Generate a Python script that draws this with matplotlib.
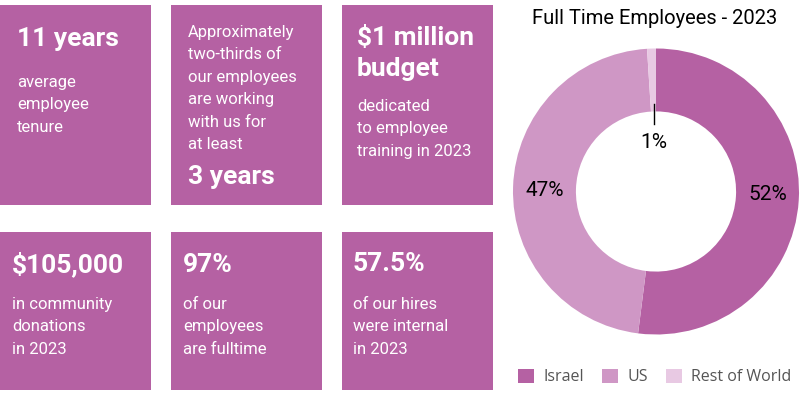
import matplotlib
matplotlib.use("Agg")
import numpy as np
import matplotlib.pyplot as plt
from matplotlib.patches import Rectangle, Patch

plt.rcParams['font.family'] = ['Roboto', 'DejaVu Sans']

# stat boxes
headlines = [["11 years"],
             [],
             ["$1 million", "budget"],
             ["$105,000"],
             ["97%"],
             ["57.5%"]]
captions = [["average", "employee", "tenure"],
            ["Approximately", "two-thirds of", "our employees", "are working",
             "with us for", "at least"],
            ["dedicated", "to employee", "training in 2023"],
            ["in community", "donations", "in 2023"],
            ["of our", "employees", "are fulltime"],
            ["of our hires", "were internal", "in 2023"]]
footlines = [[], ["3 years"], [], [], [], []]

# donut data
regions = ["Israel", "US", "Rest of World"]
shares = [52, 47, 1]
title = "Full Time Employees - 2023"

box_col = "#b561a3"
colors = ["#b561a3", "#cf97c5", "#e8c9e3"]

fig = plt.figure(figsize=(8, 4.05), dpi=100)
bg = fig.add_axes([0, 0, 1, 1])
bg.set_xlim(0, 800)
bg.set_ylim(405, 0)
bg.axis("off")

# box geometry (pixels)
box_x = [0, 171, 342]
box_w = 151
rows = [(5, 200), (232, 158)]
text_x = [17, 188, 357, 12, 183, 353]
head_base = [46, None, 45, 272, 272, 271]
cap_base = [87, 37, 111, 309, 309, 309]

for i in range(6):
    r, c = divmod(i, 3)
    y0, h = rows[r]
    bg.add_patch(Rectangle((box_x[c], y0), box_w, h, color=box_col, lw=0))
    tx = text_x[i]
    for k, s in enumerate(headlines[i]):
        bg.text(tx, head_base[i] + 31 * k, s, color="white", fontsize=19,
                fontweight="bold", va="baseline", ha="left")
    for k, s in enumerate(captions[i]):
        bg.text(tx, cap_base[i] + 22.4 * k, s, color="white", fontsize=12,
                va="baseline", ha="left")
    for s in footlines[i]:
        bg.text(tx, 184, s, color="white", fontsize=19, fontweight="bold",
                va="baseline", ha="left")

# donut
cx, cy, R = 656, 191.5, 143
ax = fig.add_axes([(cx - R) / 800, (405 - cy - R) / 405, 2 * R / 800, 2 * R / 405])
wedges, texts = ax.pie(shares, colors=colors, startangle=90, counterclock=False,
                       wedgeprops=dict(width=0.44, linewidth=0))
ax.set_xlim(-1, 1)
ax.set_ylim(-1, 1)
ax.set_aspect("auto")
ax.axis("off")

ang = 90.0
for i, v in enumerate(shares):
    mid = np.deg2rad(ang - v * 3.6 / 2)
    ang -= v * 3.6
    lab = f"{v}%"
    if v >= 5:
        ax.text(0.78 * np.cos(mid), 0.78 * np.sin(mid) * 0.4, lab, ha="center",
                va="center", fontsize=15, color="black")
    else:
        xm = 0.55 * np.cos(mid)
        ax.plot([xm, xm], [0.61, 0.47], color="black", lw=1)
        ax.text(xm, 0.345, lab, ha="center", va="center", fontsize=15,
                color="black")

fig.text(655 / 800, 1 - 18 / 405, title, ha="center", va="center",
         fontsize=14.5, color="black")

handles = [Patch(facecolor=c, edgecolor="none") for c in colors]
fig.legend(handles, regions, loc="center", bbox_to_anchor=(655 / 800, 1 - 377 / 405),
           ncol=3, frameon=False, handlelength=1.0, handleheight=1.0,
           handletextpad=0.6, columnspacing=1.1, labelcolor="#555555",
           prop={"family": "Open Sans", "size": 11.5})

fig.savefig("out.png", dpi=100)
